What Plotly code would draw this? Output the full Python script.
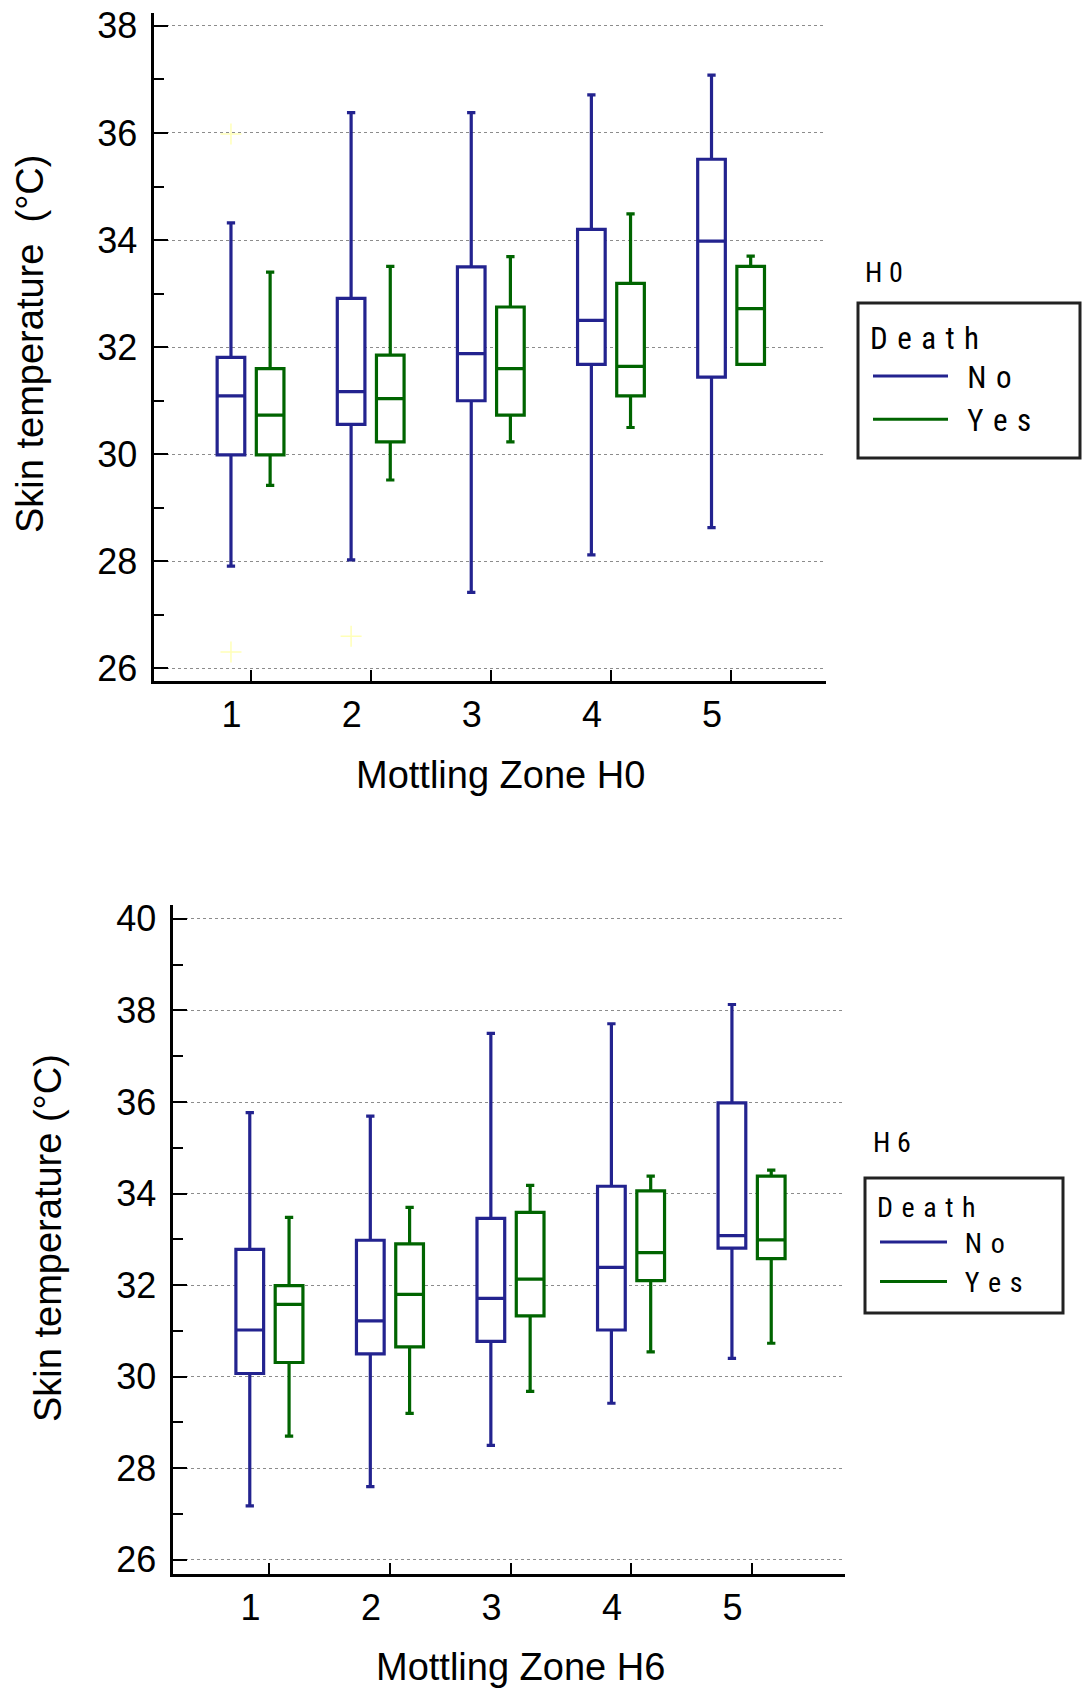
import plotly.graph_objects as go

# ---------------- data ----------------
zones = [1, 2, 3, 4, 5]
zone_labels = ["1", "2", "3", "4", "5"]

# H0, Death = No
h0_no_low = [27.91, 28.03, 27.42, 28.12, 28.63]
h0_no_q1 = [29.99, 30.56, 31.00, 31.68, 31.44]
h0_no_med = [31.09, 31.17, 31.88, 32.50, 33.98]
h0_no_q3 = [31.81, 32.91, 33.50, 34.20, 35.51]
h0_no_high = [34.32, 36.38, 36.38, 36.71, 37.08]
# H0, Death = Yes
h0_yes_low = [29.42, 29.52, 30.23, 30.50, 31.68]
h0_yes_q1 = [29.99, 30.23, 30.73, 31.09, 31.68]
h0_yes_med = [30.73, 31.04, 31.60, 31.64, 32.72]
h0_yes_q3 = [31.60, 31.85, 32.75, 33.19, 33.51]
h0_yes_high = [33.40, 33.51, 33.69, 34.49, 33.70]
# H0 outliers (Death = No)
h0_out_zone = [1, 1, 2]
h0_out_val = [35.98, 26.31, 26.60]

# H6, Death = No
h6_no_low = [27.18, 27.60, 28.50, 29.42, 30.40]
h6_no_q1 = [30.07, 30.50, 30.77, 31.02, 32.81]
h6_no_med = [31.02, 31.22, 31.71, 32.39, 33.08]
h6_no_q3 = [32.78, 32.98, 33.46, 34.16, 35.98]
h6_no_high = [35.77, 35.69, 37.50, 37.71, 38.13]
# H6, Death = Yes
h6_yes_low = [28.70, 29.20, 29.68, 30.54, 30.73]
h6_yes_q1 = [30.31, 30.65, 31.33, 32.10, 32.58]
h6_yes_med = [31.58, 31.80, 32.13, 32.71, 32.99]
h6_yes_q3 = [31.99, 32.90, 33.59, 34.06, 34.38]
h6_yes_high = [33.48, 33.70, 34.18, 34.38, 34.51]

legend_title = "D\u2004e\u2004a\u2004t\u2004h"
legend_names = ["\u00a0\u00a0N\u2004o", "\u00a0\u00a0Y\u2004e\u2004s"]

# ---------------- style ----------------
BLUE = "#23238f"
GREEN = "#006400"
OFF = 0.163
BOXW = 0.23
SANS = "Liberation Sans, Arial"
TICKFONT = dict(family=SANS, size=36, color="black")
TITLEFONT = dict(family=SANS, size=38, color="black")
NARROW = "Liberation Sans Narrow, Roboto Condensed, Liberation Sans, Arial"

fig = go.Figure()


def add_boxes(xa, ya, low, q1, med, q3, high, color, shift, name):
    fig.add_trace(go.Box(
        x=[z + shift for z in zones], lowerfence=low, q1=q1, median=med,
        q3=q3, upperfence=high, width=BOXW, whiskerwidth=0.3,
        line=dict(color=color, width=3.2), fillcolor="white",
        name=name, showlegend=False, xaxis=xa, yaxis=ya, hoverinfo="y"))


add_boxes("x", "y", h0_no_low, h0_no_q1, h0_no_med, h0_no_q3, h0_no_high, BLUE, -OFF, "No")
add_boxes("x", "y", h0_yes_low, h0_yes_q1, h0_yes_med, h0_yes_q3, h0_yes_high, GREEN, OFF, "Yes")
add_boxes("x2", "y2", h6_no_low, h6_no_q1, h6_no_med, h6_no_q3, h6_no_high, BLUE, -OFF, "No")
add_boxes("x2", "y2", h6_yes_low, h6_yes_q1, h6_yes_med, h6_yes_q3, h6_yes_high, GREEN, OFF, "Yes")

fig.add_trace(go.Scatter(
    x=[z - OFF for z in h0_out_zone], y=h0_out_val, mode="markers",
    marker=dict(symbol="cross-thin", size=15, line=dict(color="#ffffb8", width=1.5)),
    showlegend=False, xaxis="x", yaxis="y", hoverinfo="y"))

# legend entries
for leg, xa, ya in (("legend", "x", "y"), ("legend2", "x2", "y2")):
    for nm, col in zip(legend_names, (BLUE, GREEN)):
        fig.add_trace(go.Scatter(x=[None], y=[None], mode="lines",
                                 line=dict(color=col, width=3), name=nm,
                                 legend=leg, xaxis=xa, yaxis=ya))

yax = dict(ticks="inside", ticklen=14, tickwidth=2, tickcolor="black", dtick=2,
           showgrid=True, gridcolor="#8c8c8c", griddash="dot", gridwidth=1,
           minor=dict(ticks="inside", ticklen=10, tickwidth=2, dtick=1,
                      tickcolor="black", showgrid=False),
           showline=True, linewidth=3, linecolor="black", zeroline=False,
           tickfont=TICKFONT, automargin=False, ticklabelstandoff=6)
xax = dict(tickvals=zones, ticktext=zone_labels, ticks="inside", ticklen=11,
           tickwidth=2, tickcolor="black", showgrid=False, showline=True,
           linewidth=3, linecolor="black", zeroline=False, tickfont=TICKFONT,
           ticklabelshift=-19, automargin=False)

W, H = 1086, 1688


def legend_cfg(x, y, size, iw):
    return dict(x=x / W, y=1 - y / H, xanchor="left", yanchor="top",
                bgcolor="rgba(0,0,0,0)", borderwidth=0,
                font=dict(family=NARROW, size=size, color="black"),
                title=dict(text=legend_title, font=dict(family=NARROW, size=size, color="black")),
                itemwidth=iw, tracegroupgap=0)


def frame(x0, y0, x1, y1):
    return dict(type="rect", xref="paper", yref="paper", x0=x0 / W, x1=x1 / W,
                y0=1 - y0 / H, y1=1 - y1 / H, line=dict(color="#222", width=3),
                fillcolor="rgba(0,0,0,0)", layer="above")


fig.update_layout(
    width=W, height=H, margin=dict(l=0, r=0, t=0, b=0),
    paper_bgcolor="white", plot_bgcolor="white", boxmode="overlay",
    xaxis=dict(xax, domain=[153.6 / W, 826 / W], range=[0.193, 5.79], anchor="y"),
    yaxis=dict(yax, domain=[1 - 680.8 / H, 1 - 12.5 / H], range=[25.77, 38.25], tick0=26,
               anchor="x"),
    xaxis2=dict(xax, domain=[172.5 / W, 845 / W], range=[0.196, 5.775], anchor="y2"),
    yaxis2=dict(yax, domain=[1 - 1574 / H, 1 - 904.7 / H], range=[25.69, 40.31], tick0=26,
                anchor="x2"),
    legend=legend_cfg(868, 309, 31, 75),
    legend2=legend_cfg(875, 1181, 28, 67),
    shapes=[frame(858, 303, 1080, 458), frame(865, 1178, 1063, 1313)],
    annotations=[
        dict(text="Skin temperature\u00a0 (°C)", x=30 / W, y=1 - 344 / H, xref="paper", yref="paper",
             textangle=-90, showarrow=False, font=TITLEFONT, xanchor="center", yanchor="middle"),
        dict(text="Skin temperature (°C)", x=48 / W, y=1 - 1238 / H, xref="paper", yref="paper",
             textangle=-90, showarrow=False, font=TITLEFONT, xanchor="center", yanchor="middle"),
        dict(text="Mottling Zone H0", x=500 / W, y=1 - 775 / H, xref="paper", yref="paper",
             showarrow=False, font=TITLEFONT, xanchor="center", yanchor="middle"),
        dict(text="Mottling Zone H6", x=520 / W, y=1 - 1667 / H, xref="paper", yref="paper",
             showarrow=False, font=TITLEFONT, xanchor="center", yanchor="middle"),
        dict(text="H\u20050", x=863 / W, y=1 - 272 / H, xref="paper", yref="paper",
             showarrow=False, font=dict(family=NARROW, size=28, color="black"),
             xanchor="left", yanchor="middle"),
        dict(text="H\u20056", x=871 / W, y=1 - 1142 / H, xref="paper", yref="paper",
             showarrow=False, font=dict(family=NARROW, size=28, color="black"),
             xanchor="left", yanchor="middle"),
    ],
)

fig.write_html("out.html", config={"displayModeBar": False},
               post_script="document.body.style.margin='0px';")
